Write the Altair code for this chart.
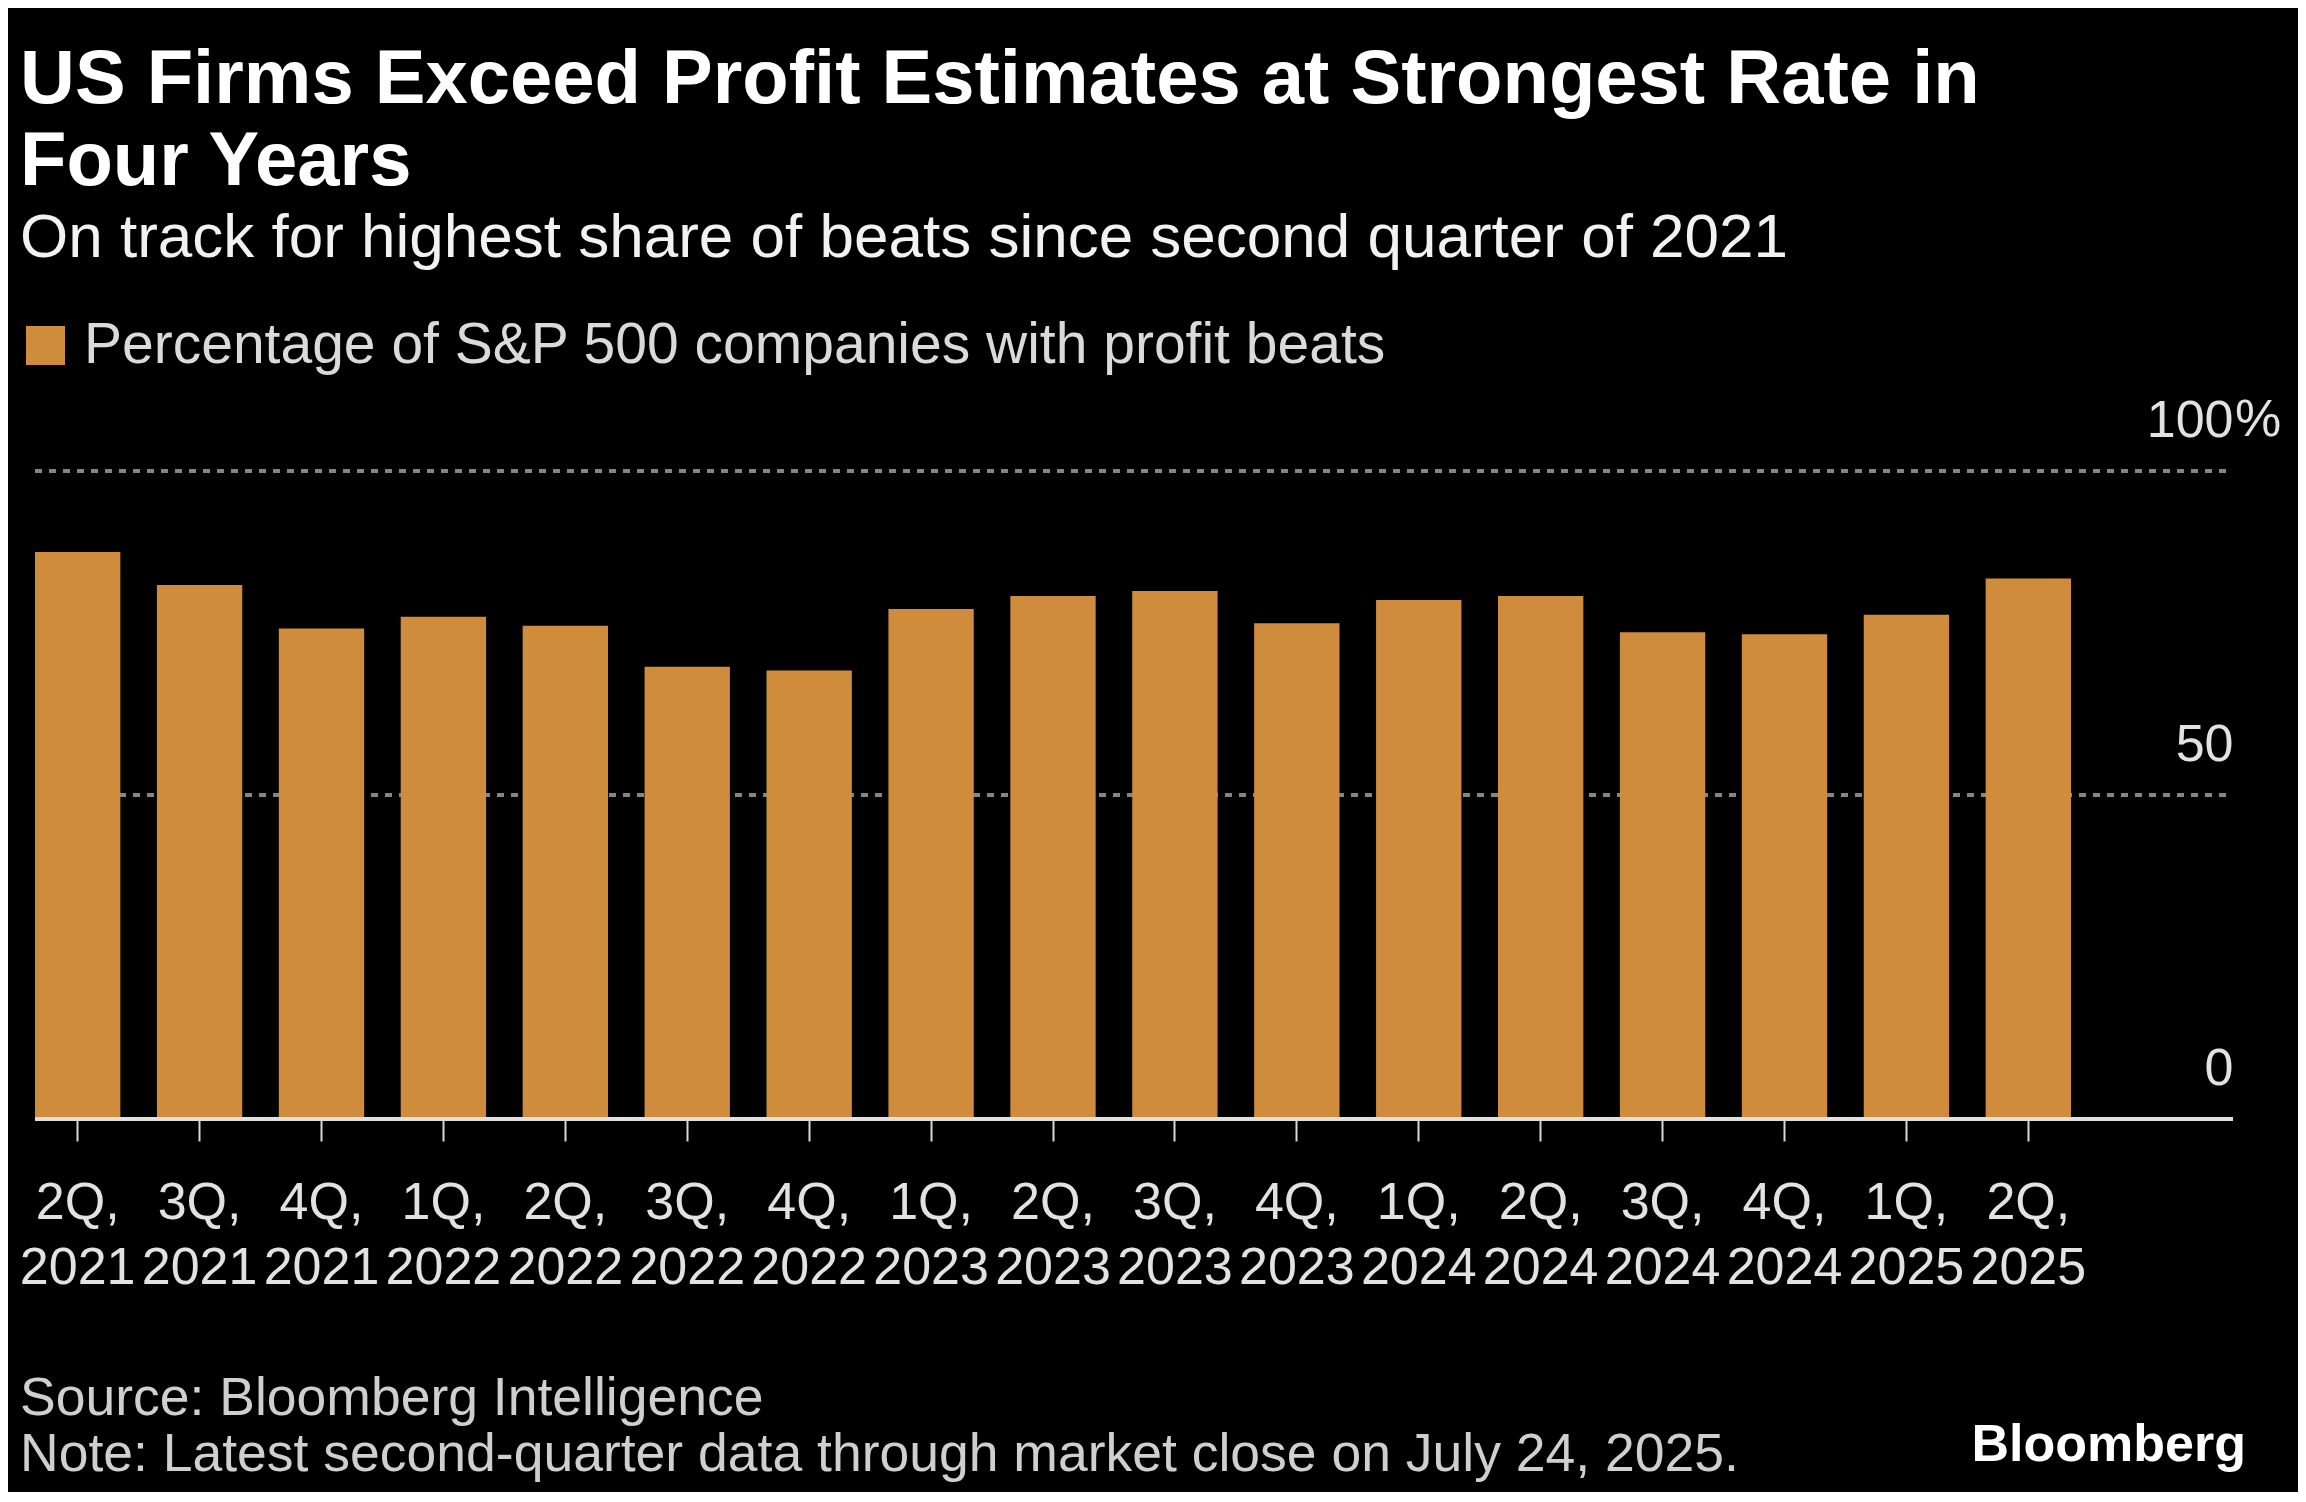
import altair as alt
import pandas as pd

QUARTERS = ["2Q, 2021", "3Q, 2021", "4Q, 2021", "1Q, 2022", "2Q, 2022", "3Q, 2022",
            "4Q, 2022", "1Q, 2023", "2Q, 2023", "3Q, 2023", "4Q, 2023", "1Q, 2024",
            "2Q, 2024", "3Q, 2024", "4Q, 2024", "1Q, 2025", "2Q, 2025"]
BEAT_PCT = [87.5, 82.4, 75.7, 77.5, 76.1, 69.8, 69.2, 78.7, 80.7, 81.5,
            76.5, 80.1, 80.7, 75.1, 74.8, 77.8, 83.4]
SERIES = "Percentage of S&P 500 companies with profit beats"
Y_TICKS = [0, 50, 100]
Y_UNIT = "%"
TITLE_LINES = ["US Firms Exceed Profit Estimates at Strongest Rate in", "Four Years"]
SUBTITLE = "On track for highest share of beats since second quarter of 2021"
SOURCE = "Source: Bloomberg Intelligence"
NOTE = "Note: Latest second-quarter data through market close on July 24, 2025."
BRAND = "Bloomberg"

df = pd.DataFrame({"quarter": QUARTERS, "pct": BEAT_PCT, "series": SERIES})
grid_df = pd.DataFrame({"pct": [v for v in Y_TICKS if v > 0]})
base_df = pd.DataFrame({"pct": [min(Y_TICKS)]})
unit_df = pd.DataFrame({"pct": [max(Y_TICKS)], "t": [Y_UNIT]})

W, H = 2198, 648
FONT = "Liberation Sans"
ORANGE = "#CF8C3C"
LABEL_GREY = "#e2e2e2"

Y_AXIS = alt.Axis(
    title=None, orient="right", values=Y_TICKS, domain=False,
    ticks=False, tickSize=0, labelAlign="right", labelBaseline="alphabetic",
    labelOffset=-35, labelPadding=0,
    labelFont=FONT, labelFontSize=52, labelColor=LABEL_GREY,
    grid=False,
)
Y_SCALE = alt.Scale(domain=[0, 100], nice=False)

grid = alt.Chart(grid_df).mark_rule(
    color="#858585", strokeWidth=4, strokeDash=[7, 7]
).encode(
    y=alt.Y("pct:Q", scale=Y_SCALE, axis=Y_AXIS),
    x=alt.value(0), x2=alt.value(W),
)

bars = alt.Chart(df).mark_bar(strokeWidth=0).encode(
    x=alt.X(
        "quarter:N", sort=QUARTERS,
        scale=alt.Scale(range=[0, 2036], paddingInner=0.3, paddingOuter=0),
        axis=alt.Axis(
            title=None, orient="bottom", labelAngle=0, labelOverlap=False,
            labelExpr="split(datum.label, ' ')", labelLineHeight=65,
            labelFont=FONT, labelFontSize=52, labelColor=LABEL_GREY,
            labelPadding=36, tickSize=22, tickWidth=2, tickColor="#d8d8d8",
            domain=False, grid=False, zindex=1,
        ),
    ),
    y=alt.Y("pct:Q", scale=Y_SCALE, axis=Y_AXIS),
    color=alt.Color(
        "series:N",
        scale=alt.Scale(range=[ORANGE]),
        legend=alt.Legend(
            title=None, orient="none", legendX=-18, legendY=-154,
            symbolType="square", symbolSize=1521, symbolStrokeWidth=0,
            labelFont=FONT, labelFontSize=57, labelColor="#dadada",
            labelLimit=3000, labelOffset=10, padding=0,
        ),
    ),
)

baseline = alt.Chart(base_df).mark_rule(color="#e0e0e0", strokeWidth=4).encode(
    y=alt.Y("pct:Q", scale=Y_SCALE, axis=Y_AXIS),
    x=alt.value(0), x2=alt.value(W),
)

unit = alt.Chart(unit_df).mark_text(
    align="left", baseline="alphabetic", dy=-35, font=FONT, fontSize=52, color=LABEL_GREY
).encode(
    y=alt.Y("pct:Q", scale=Y_SCALE, axis=Y_AXIS),
    x=alt.value(W + 2),
    text="t:N",
)

source = alt.Chart(pd.DataFrame({"t": [SOURCE]})).mark_text(
    align="left", baseline="alphabetic", font=FONT, fontSize=53.5, color="#cfcfcf"
).encode(text="t:N", x=alt.value(-15), y=alt.value(944))

note = alt.Chart(pd.DataFrame({"t": [NOTE]})).mark_text(
    align="left", baseline="alphabetic", font=FONT, fontSize=53.5, color="#cfcfcf"
).encode(text="t:N", x=alt.value(-15), y=alt.value(1000))

brand = alt.Chart(pd.DataFrame({"t": [BRAND]})).mark_text(
    align="right", baseline="alphabetic", font=FONT, fontSize=52,
    fontWeight="bold", color="#ffffff"
).encode(text="t:N", x=alt.value(2211), y=alt.value(990))

chart = alt.layer(grid, bars, baseline, unit, source, note, brand).properties(
    width=W, height=H,
    title=alt.Title(
        text=TITLE_LINES, subtitle=SUBTITLE, anchor="start", frame="group",
        dx=-15, offset=47, font=FONT, fontSize=76, fontWeight="bold",
        lineHeight=82, color="#ffffff",
        subtitleFont=FONT, subtitleFontSize=62, subtitleColor="#f2f2f2",
        subtitlePadding=7,
    ),
    autosize=alt.AutoSizeParams(type="none"),
    padding={"left": 27, "top": 463, "right": 65, "bottom": 373},
    background="#000000",
).configure_view(stroke=None)

chart.save("out.html", embed_options={"renderer": "svg", "actions": False})
